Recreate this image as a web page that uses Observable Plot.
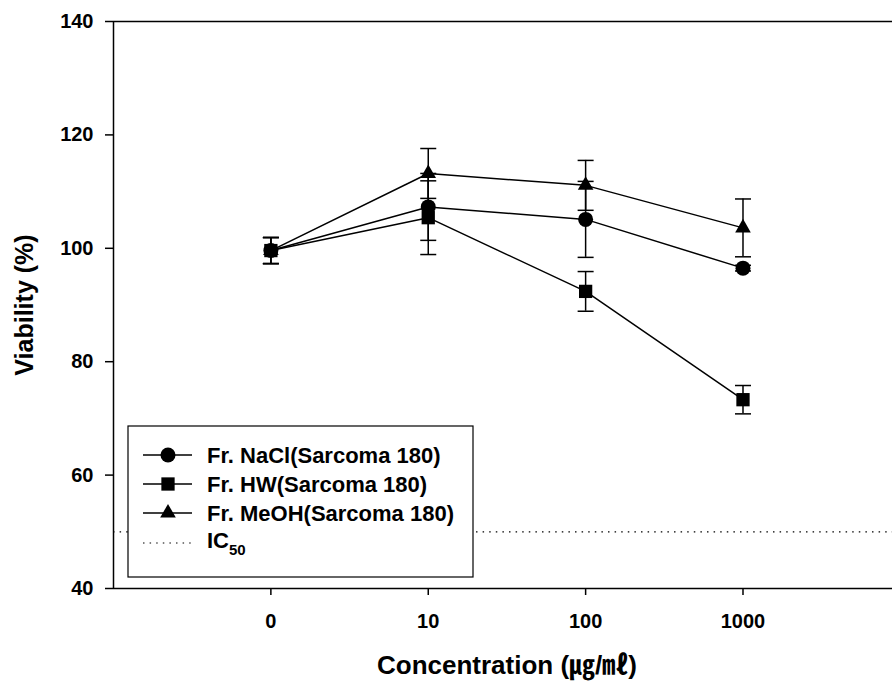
<!DOCTYPE html>
<html><head><meta charset="utf-8">
<script src="https://cdn.jsdelivr.net/npm/d3@7"></script>
<script src="https://cdn.jsdelivr.net/npm/@observablehq/plot@0.6"></script>
<style>
body{margin:0;background:#fff}
#chart{position:relative;width:892px;height:685px}
</style>
</head><body><div id="chart"></div>
<script>
// ---- data ----
const concLabels = ["0", "10", "100", "1000"];
const concIndex = [0, 1, 2, 3];
const seriesNames = ["Fr. NaCl(Sarcoma 180)", "Fr. HW(Sarcoma 180)", "Fr. MeOH(Sarcoma 180)"];
const seriesSymbols = ["circle", "square", "triangle"];
const naclMean = [99.6, 107.3, 105.1, 96.5];
const naclErr  = [2.3, 5.9, 6.7, 0.5];
const hwMean   = [99.6, 105.4, 92.4, 73.3];
const hwErr    = [2.3, 6.5, 3.5, 2.5];
const meohMean = [99.6, 113.2, 111.1, 103.6];
const meohErr  = [2.3, 4.4, 4.4, 5.1];
const yTicks = [40, 60, 80, 100, 120, 140];
const ic50 = 50;
const xTitle = "Concentration (㎍/㎖)";
const yTitle = "Viability (%)";

const means = [naclMean, hwMean, meohMean];
const errs = [naclErr, hwErr, meohErr];
const rows = [];
seriesNames.forEach((s, si) => concIndex.forEach((x, i) => rows.push({series: s, si, x, y: means[si][i], err: errs[si][i]})));

const FONT = "'Liberation Sans', Arial, Helvetica, sans-serif";
const capSymbol = {draw(ctx) { ctx.moveTo(-8, 0); ctx.lineTo(8, 0); }};
const symR = [7.5, 7.5, 5.8];

const marks = [
  Plot.ruleY([ic50], {stroke: "black", strokeWidth: 1.2, strokeDasharray: "1.5 5.1"}),
  Plot.ruleX([-1], {stroke: "black", strokeWidth: 1.5}),
  Plot.ruleY([40], {stroke: "black", strokeWidth: 1.5}),
  Plot.ruleY([140], {stroke: "black", strokeWidth: 1.5}),
  Plot.axisY({ticks: yTicks, tickSize: 8, tickPadding: 12, fontSize: 20, fontWeight: "bold", label: null, strokeWidth: 1.5}),
  Plot.axisX({ticks: concIndex, tickFormat: i => concLabels[i], tickSize: 7, tickPadding: 18, fontSize: 20, fontWeight: "bold", label: null, strokeWidth: 1.5}),
  Plot.line(rows, {x: "x", y: "y", z: "series", stroke: "black", strokeWidth: 1.5}),
  Plot.ruleX(rows, {x: "x", y1: d => d.y - d.err, y2: d => d.y + d.err, stroke: "black", strokeWidth: 1.5}),
  Plot.dot(rows, {x: "x", y: d => d.y + d.err, symbol: capSymbol, fill: "none", stroke: "black", strokeWidth: 1.5}),
  Plot.dot(rows, {x: "x", y: d => d.y - d.err, symbol: capSymbol, fill: "none", stroke: "black", strokeWidth: 1.5}),
  ...seriesNames.map((s, si) => Plot.dot(rows.filter(d => d.si === si), {x: "x", y: "y", symbol: seriesSymbols[si], r: symR[si], fill: "black", stroke: "none"}))
];

const chart = Plot.plot({
  width: 892, height: 685,
  marginLeft: 113, marginRight: 0, marginTop: 21, marginBottom: 97,
  x: {domain: [-1, 3.95], axis: null},
  y: {domain: [40, 140], axis: null},
  style: {fontFamily: FONT, background: "white", color: "black"},
  marks
});

const svg = d3.select(chart);
// axis titles
svg.append("text").attr("x", 507).attr("y", 674).attr("text-anchor", "middle")
  .attr("font-family", FONT + ", 'Noto Sans CJK KR'").attr("font-weight", "bold").attr("font-size", 26).attr("fill", "black").text(xTitle);
svg.append("text").attr("transform", "translate(33,305) rotate(-90)").attr("text-anchor", "middle")
  .attr("font-family", FONT).attr("font-weight", "bold").attr("font-size", 25).attr("fill", "black").text(yTitle);

// legend
const lg = svg.append("g").attr("font-family", FONT).attr("font-weight", "bold").attr("font-size", 22).attr("text-anchor", "start");
lg.append("rect").attr("x", 128).attr("y", 426).attr("width", 345).attr("height", 151)
  .attr("fill", "white").attr("stroke", "black").attr("stroke-width", 1.2);
const rowY = [455, 484, 513, 543];
seriesNames.forEach((s, si) => {
  const y = rowY[si];
  lg.append("line").attr("x1", 143).attr("x2", 192).attr("y1", y).attr("y2", y).attr("stroke", "black").attr("stroke-width", 1.5);
  const symType = [d3.symbolCircle, d3.symbolSquare, d3.symbolTriangle][si];
  lg.append("path").attr("transform", `translate(168,${y})`).attr("d", d3.symbol(symType, Math.PI * symR[si] * symR[si])()).attr("fill", "black");
  lg.append("text").attr("x", 207).attr("y", y).attr("dy", "0.36em").attr("fill", "black").text(s);
});
lg.append("line").attr("x1", 143).attr("x2", 192).attr("y1", rowY[3]).attr("y2", rowY[3])
  .attr("stroke", "black").attr("stroke-width", 1.2).attr("stroke-dasharray", "1.5 5.1");
const ic = lg.append("text").attr("x", 207).attr("y", rowY[3] - 3).attr("dy", "0.36em").attr("fill", "black");
ic.append("tspan").text("IC");
ic.append("tspan").attr("font-size", 15).attr("dy", 7).text("50");

document.getElementById("chart").appendChild(chart);
</script>
</body></html>
